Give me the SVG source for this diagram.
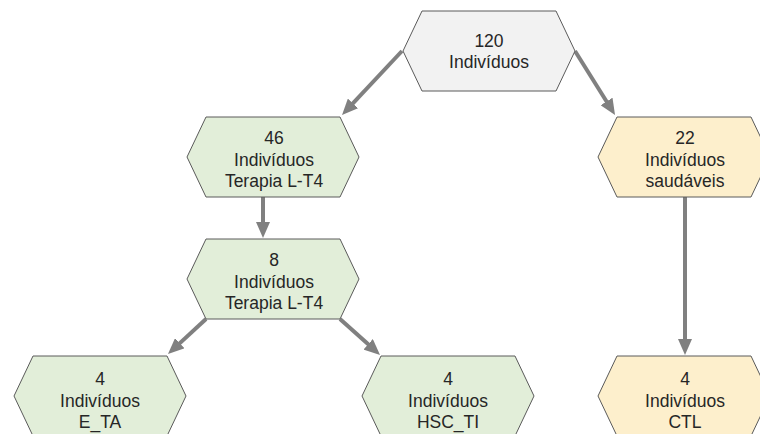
<svg xmlns="http://www.w3.org/2000/svg" width="760" height="434" viewBox="0 0 760 434">
  <style>
    .hex { stroke: #5a5a5a; stroke-width: 1; }
    .gray { fill: #f2f2f2; }
    .green { fill: #e2eed9; }
    .yellow { fill: #fdefcc; }
    .lbl { font-family: "Liberation Sans", Arial, sans-serif; font-size: 17.5px; fill: #262626; text-anchor: middle; }
    .conn { stroke: #808080; stroke-width: 4; fill: none; marker-end: url(#arrow); }
  </style>
  <defs>
    <marker id="arrow" markerUnits="userSpaceOnUse" viewBox="0 0 16 14" markerWidth="16" markerHeight="14" refX="8" refY="7" orient="auto">
      <path d="M0,0 L16,7 L0,14 z" fill="#808080"/>
    </marker>
  </defs>
  <rect width="760" height="434" fill="#ffffff"/>

  <g id="connectors">
    <line class="conn" x1="402" y1="51" x2="347.5" y2="109.2"/>
    <line class="conn" x1="575" y1="51" x2="610.8" y2="108.2"/>
    <line class="conn" x1="263" y1="197" x2="263" y2="230"/>
    <line class="conn" x1="206" y1="319" x2="173.9" y2="348.6"/>
    <line class="conn" x1="340" y1="319" x2="374.1" y2="349.6"/>
    <line class="conn" x1="685" y1="197" x2="685" y2="347"/>
  </g>

  <g id="n120">
    <polygon class="hex gray" points="403,51 422,11 556,11 575,51 556,91 422,91"/>
    <text class="lbl" x="489" y="47">120</text>
    <text class="lbl" x="489" y="68">Indivíduos</text>
  </g>

  <g id="n46">
    <polygon class="hex green" points="187,157 206,117 340,117 359,157 340,197 206,197"/>
    <text class="lbl" x="274" y="144">46</text>
    <text class="lbl" x="274" y="166">Indivíduos</text>
    <text class="lbl" x="274" y="187">Terapia L-T4</text>
  </g>

  <g id="n22">
    <polygon class="hex yellow" points="598,157 617,117 751,117 770,157 751,197 617,197"/>
    <text class="lbl" x="685" y="144">22</text>
    <text class="lbl" x="685" y="166">Indivíduos</text>
    <text class="lbl" x="685" y="187">saudáveis</text>
  </g>

  <g id="n8">
    <polygon class="hex green" points="187,279 206,239 340,239 359,279 340,319 206,319"/>
    <text class="lbl" x="274" y="266">8</text>
    <text class="lbl" x="274" y="288">Indivíduos</text>
    <text class="lbl" x="274" y="309">Terapia L-T4</text>
  </g>

  <g id="nETA">
    <polygon class="hex green" points="14,396 33,356 167,356 186,396 167,436 33,436"/>
    <text class="lbl" x="100" y="385">4</text>
    <text class="lbl" x="100" y="407">Indivíduos</text>
    <text class="lbl" x="100" y="428">E_TA</text>
  </g>

  <g id="nHSC">
    <polygon class="hex green" points="362,396 381,356 515,356 534,396 515,436 381,436"/>
    <text class="lbl" x="448" y="385">4</text>
    <text class="lbl" x="448" y="407">Indivíduos</text>
    <text class="lbl" x="448" y="428">HSC_TI</text>
  </g>

  <g id="nCTL">
    <polygon class="hex yellow" points="598,396 617,356 751,356 770,396 751,436 617,436"/>
    <text class="lbl" x="685" y="385">4</text>
    <text class="lbl" x="685" y="407">Indivíduos</text>
    <text class="lbl" x="685" y="428">CTL</text>
  </g>
</svg>
